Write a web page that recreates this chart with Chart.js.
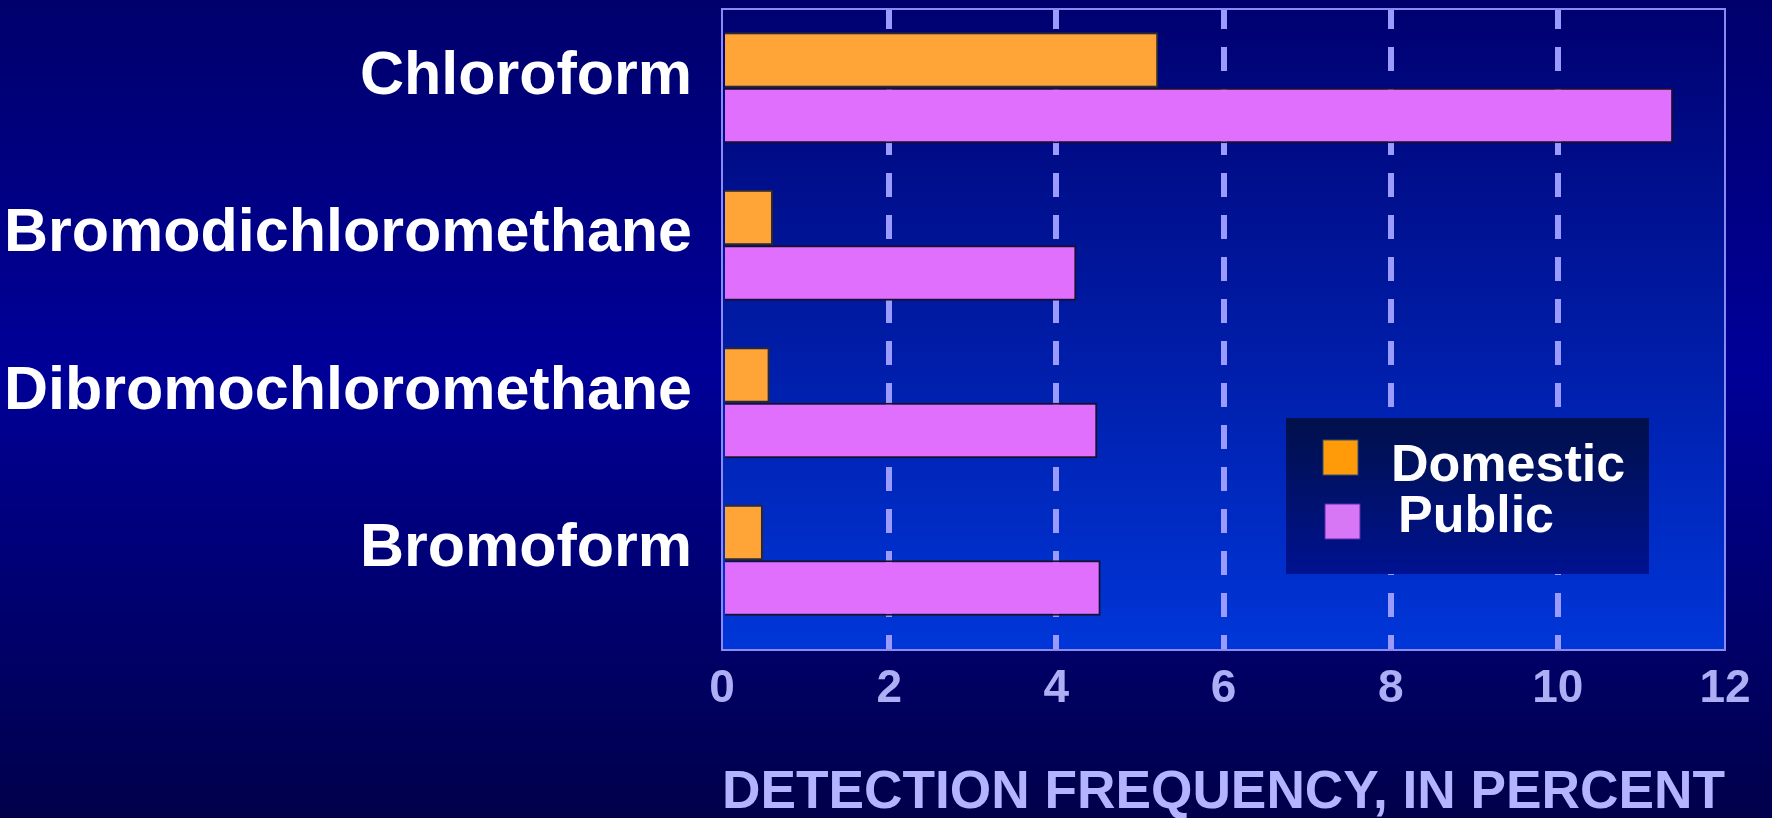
<!DOCTYPE html>
<html>
<head>
<meta charset="utf-8">
<script src="https://cdn.jsdelivr.net/npm/chart.js@4/dist/chart.umd.min.js"></script>
<style>
  body { margin: 0; background: #000080; }
  #wrap { width: 1772px; height: 818px; }
</style>
</head>
<body>
<div id="wrap"><canvas id="myChart" width="1772" height="818"></canvas></div>
<script>
// data (percent)
var compuestos = ['Chloroform', 'Bromodichloromethane', 'Dibromochloromethane', 'Bromoform'];
var domestic = [5.22, 0.61, 0.57, 0.49];
var publico = [11.38, 4.24, 4.49, 4.53];
var ticksX = [0, 2, 4, 6, 8, 10, 12];
var tituloX = 'DETECTION FREQUENCY, IN PERCENT';

var fuente = '"Liberation Sans", Arial, sans-serif';

function puntos(valores) {
  var res = [];
  for (var i = 0; i < valores.length; i++) {
    res.push({ x: valores[i], y: i });
  }
  return res;
}

// fondo de la pagina y del area del grafico
var fondo = {
  id: 'fondo',
  beforeDraw: function(chart) {
    var ctx = chart.ctx;
    var a = chart.chartArea;
    var g = ctx.createLinearGradient(0, 0, 0, chart.height);
    g.addColorStop(0, '#00006c');
    g.addColorStop(0.45, '#000098');
    g.addColorStop(1, '#00004a');
    ctx.save();
    ctx.fillStyle = g;
    ctx.fillRect(0, 0, chart.width, chart.height);
    var g2 = ctx.createLinearGradient(0, a.top, 0, a.bottom);
    g2.addColorStop(0, '#000070');
    g2.addColorStop(1, '#0036d8');
    ctx.fillStyle = g2;
    ctx.fillRect(a.left, a.top, a.right - a.left, a.bottom - a.top);
    ctx.restore();
  },
  afterDatasetsDraw: function(chart) {
    var ctx = chart.ctx;
    var a = chart.chartArea;
    ctx.save();
    ctx.strokeStyle = '#8a8af2';
    ctx.lineWidth = 2;
    ctx.strokeRect(a.left, a.top, a.right - a.left, a.bottom - a.top);
    ctx.restore();
  }
};

// leyenda dibujada a mano dentro del area
var leyenda = {
  id: 'leyenda',
  afterDatasetsDraw: function(chart) {
    var ctx = chart.ctx;
    var a = chart.chartArea;
    var x0 = a.left + 564, y0 = 418, w = 363, h = 156;
    ctx.save();
    var g = ctx.createLinearGradient(0, y0, 0, y0 + h);
    g.addColorStop(0, '#00104a');
    g.addColorStop(1, '#001290');
    ctx.fillStyle = g;
    ctx.fillRect(x0, y0, w, h);
    var cuadros = ['#ff9a08', '#d877f6'];
    var bordes = ['#35506a', '#5a2ab0'];
    ctx.font = 'bold 52px ' + fuente;
    ctx.textBaseline = 'alphabetic';
    chart.data.datasets.forEach(function(ds, i) {
      var sy = y0 + 22 + i * 64;
      ctx.fillStyle = cuadros[i];
      ctx.fillRect(x0 + 37 + i * 2, sy, 35, 35);
      ctx.strokeStyle = bordes[i];
      ctx.lineWidth = 1;
      ctx.strokeRect(x0 + 37 + i * 2, sy, 35, 35);
      ctx.fillStyle = '#ffffff';
      ctx.fillText(ds.label, x0 + 105 + i * 7, y0 + 63 + i * 51);
    });
    ctx.restore();
  }
};

var ctx = document.getElementById('myChart').getContext('2d');
var chart = new Chart(ctx, {
  type: 'bar',
  data: {
    datasets: [{
      label: 'Domestic',
      data: puntos(domestic),
      backgroundColor: '#ffa436',
      borderColor: '#2e2a2a',
      borderWidth: 2
    }, {
      label: 'Public',
      data: puntos(publico),
      backgroundColor: '#df6ffc',
      borderColor: '#1a1028',
      borderWidth: 2
    }]
  },
  options: {
    responsive: false,
    animation: false,
    indexAxis: 'y',
    categoryPercentage: 0.705,
    barPercentage: 1,
    layout: { padding: { top: 9, right: 47, left: 0, bottom: 0 } },
    plugins: {
      legend: { display: false },
      tooltip: { enabled: false }
    },
    scales: {
      x: {
        type: 'linear',
        min: 0,
        max: 12,
        afterBuildTicks: function(s) {
          s.ticks = ticksX.map(function(v) { return { value: v }; });
        },
        afterFit: function(s) {
          s.height = 168;
          s.paddingLeft = 0;
          s.paddingRight = 0;
        },
        ticks: {
          color: '#aeaef4',
          font: { family: fuente, size: 46, weight: 'bold' },
          padding: 12,
          maxRotation: 0
        },
        grid: {
          drawTicks: false,
          lineWidth: 6,
          color: function(c) {
            if (!c.tick || c.tick.value === 0 || c.tick.value === 12) return 'rgba(0,0,0,0)';
            return '#9a9aff';
          }
        },
        border: { display: false, dash: [24, 18], dashOffset: 4 },
        title: {
          display: true,
          text: tituloX,
          color: '#b3b3ff',
          font: { family: fuente, size: 54, weight: 'bold' },
          padding: { top: 0, bottom: -8 }
        }
      },
      y: {
        type: 'linear',
        reverse: true,
        offset: false,
        min: -0.5,
        max: 3.57,
        afterBuildTicks: function(s) {
          s.ticks = compuestos.map(function(c, i) { return { value: i }; });
        },
        afterFit: function(s) {
          s.width = 722;
          s.paddingTop = 0;
          s.paddingBottom = 0;
        },
        ticks: {
          color: '#ffffff',
          font: { family: fuente, size: 61, weight: 'bold' },
          padding: 22,
          labelOffset: -11,
          callback: function(v) { return compuestos[v]; }
        },
        grid: { display: false },
        border: { display: false }
      }
    }
  },
  plugins: [fondo, leyenda]
});
</script>
</body>
</html>
